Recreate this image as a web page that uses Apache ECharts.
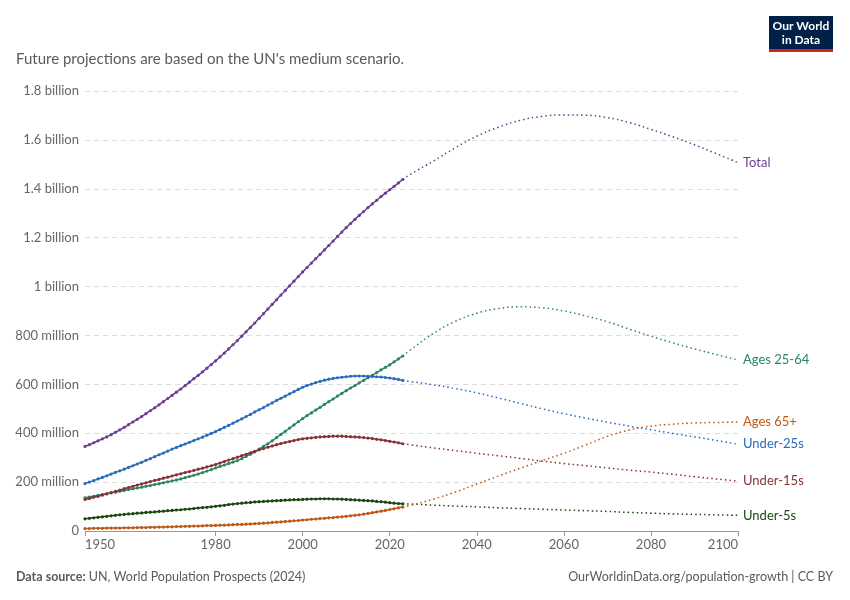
<!DOCTYPE html>
<html>
<head>
<meta charset="utf-8">
<script src="https://cdn.jsdelivr.net/npm/echarts@6/dist/echarts.min.js"></script>
<style>
  html, body { margin: 0; padding: 0; background: #fff; }
  #chart { width: 850px; height: 600px; }
</style>
</head>
<body>
<div id="chart"></div>
<script>
// values in millions
var histStart = 1950;
var histEnd = 2023;

var totalHist = [346,353,361,369,377,385,394,404,414,424,435,
  446,457,468,480,492,504,516,529,542,555,
  568,581,595,609,623,637,651,666,681,696,
  712,728,745,762,779,797,815,833,851,870,
  889,908,927,946,965,984,1003,1022,1041,1060,
  1078,1096,1114,1132,1150,1168,1186,1205,1223,1241,
  1258,1275,1291,1307,1323,1338,1353,1368,1382,1396,
  1410,1424,1438];

var age2564Hist = [136,139,142,146,149,152,156,159,163,166,170,
  173,176,179,183,186,190,193,197,201,205,
  209,213,218,223,228,233,239,245,251,258,
  264,270,276,282,288,296,305,314,324,335,
  346,357,369,382,395,408,421,434,447,460,
  472,483,495,506,518,529,540,552,563,574,
  585,595,606,616,627,637,648,659,669,680,
  692,704,716];

var under25Hist = [194,200,206,213,219,226,233,240,246,253,260,
  267,274,281,289,296,304,312,319,327,335,
  342,349,356,363,370,377,384,392,399,407,
  415,424,432,441,450,459,468,477,487,496,
  505,515,524,534,543,552,561,570,579,588,
  595,601,607,612,617,621,624,627,629,631,
  633,634,634,634,633,632,631,630,628,626,
  623,620,616];

var under15Hist = [129,133,138,142,147,152,157,162,167,173,178,
  183,188,192,197,202,207,211,216,220,225,
  230,234,239,243,248,253,257,262,267,272,
  278,284,290,296,302,308,314,320,326,332,
  337,343,348,353,358,362,366,370,374,377,
  379,381,383,385,386,387,388,388,388,387,
  386,385,384,382,380,378,375,373,370,367,
  364,361,357];

var under5Hist = [50,52,54,56,58,60,62,64,66,68,70,
  71,73,74,76,77,78,80,81,83,84,
  86,87,89,90,92,94,96,97,99,101,
  103,105,108,110,112,114,116,117,119,120,
  121,122,123,124,125,126,127,128,128,129,
  130,131,131,132,132,132,131,131,130,129,
  128,127,126,125,124,123,121,120,118,116,
  114,112,111];

var age65Hist = [10,10,11,11,11,12,12,12,12,13,13,
  13,14,14,14,15,15,16,16,17,17,
  18,18,19,19,20,20,21,22,22,23,
  24,24,25,26,27,27,28,29,30,31,
  32,33,35,36,37,39,40,42,43,45,
  46,48,49,51,52,54,55,57,58,60,
  62,64,66,69,72,75,78,81,84,88,
  91,95,98];

// projections (UN medium scenario)
var projYears   = [2023,2025,2030,2035,2040,2045,2050,2055,2060,2065,2070,2075,2080,2085,2090,2095,2100];
var totalProj   = [1438,1462,1513,1567,1615,1652,1680,1696,1702,1701,1691,1671,1643,1613,1580,1544,1507];
var age2564Proj = [716,744,808,857,891,910,917,913,900,880,856,826,797,770,745,722,699];
var under25Proj = [616,611,598,583,565,544,522,500,480,462,445,429,414,399,385,370,355];
var under15Proj = [357,352,340,329,318,308,297,286,276,267,258,249,241,232,222,213,204];
var under5Proj  = [111,110,106,102,99,95,92,89,86,83,80,76,73,70,68,66,64];
var age65Proj   = [98,106,130,159,192,225,257,288,318,352,387,413,429,437,442,444,446];

var xTicks = [1950,1980,2000,2020,2040,2060,2080,2100];

var colors = {
  'Total': '#6d3e91',
  'Ages 25-64': '#2c8465',
  'Under-25s': '#286bbb',
  'Under-15s': '#883039',
  'Under-5s': '#18470f',
  'Ages 65+': '#be5915'
};

var histYears = [];
for (var y = histStart; y <= histEnd; y++) histYears.push(y);

function pairs(xs, vs) {
  return xs.map(function (x, i) { return [x, vs[i]]; });
}

function histSeries(name, vals) {
  return {
    name: name + ' (hist)',
    type: 'line',
    data: pairs(histYears, vals),
    symbol: 'circle',
    symbolSize: 3.2,
    showSymbol: true,
    lineStyle: { color: colors[name], width: 1.5 },
    itemStyle: { color: colors[name] },
    z: 3,
    silent: true
  };
}

function projSeries(name, vals) {
  return {
    name: name,
    type: 'line',
    data: pairs(projYears, vals),
    smooth: 0.5,
    showSymbol: false,
    lineStyle: { color: colors[name], width: 1.5, type: [1.5, 3] },
    itemStyle: { color: colors[name] },
    endLabel: {
      show: true,
      formatter: '{a}',
      color: colors[name],
      fontFamily: 'Lato',
      fontSize: 13,
      distance: 5
    },
    z: 2,
    silent: true
  };
}

var chart = echarts.init(document.getElementById('chart'), null, { renderer: 'canvas' });

var option = {
  animation: false,
  backgroundColor: '#ffffff',
  textStyle: { fontFamily: 'Lato' },
  grid: { left: 85, right: 112, top: 91, bottom: 69 },
  xAxis: {
    type: 'value',
    min: 1950,
    max: 2100,
    axisLine: { show: true, lineStyle: { color: '#999', width: 1 } },
    axisTick: { show: true, length: 5, lineStyle: { color: '#999' }, customValues: xTicks },
    axisLabel: {
      customValues: xTicks,
      color: '#666',
      fontSize: 13,
      fontFamily: 'Lato',
      margin: 7,
      alignMinLabel: 'left',
      alignMaxLabel: 'right',
      formatter: function (v) { return String(v); }
    },
    splitLine: { show: false }
  },
  yAxis: {
    type: 'value',
    min: 0,
    max: 1800,
    interval: 200,
    axisLine: { show: false },
    axisTick: { show: false },
    axisLabel: {
      color: '#666',
      fontSize: 13,
      fontFamily: 'Lato',
      margin: 6,
      formatter: function (v) {
        if (v === 0) return '0';
        if (v >= 1000) return (v / 1000) + ' billion';
        return v + ' million';
      }
    },
    splitLine: { show: true, lineStyle: { color: '#dcdcdc', type: [5, 4], width: 1 } }
  },
  series: [
    projSeries('Total', totalProj),
    projSeries('Ages 25-64', age2564Proj),
    projSeries('Under-25s', under25Proj),
    projSeries('Under-15s', under15Proj),
    projSeries('Under-5s', under5Proj),
    projSeries('Ages 65+', age65Proj),
    histSeries('Total', totalHist),
    histSeries('Ages 25-64', age2564Hist),
    histSeries('Under-25s', under25Hist),
    histSeries('Under-15s', under15Hist),
    histSeries('Under-5s', under5Hist),
    histSeries('Ages 65+', age65Hist)
  ],
  graphic: [
    {
      type: 'text', left: 16, top: 52,
      style: { text: "Future projections are based on the UN's medium scenario.", fill: '#5b5b5b', font: '15px Lato' }
    },
    { type: 'rect', shape: { x: 769, y: 16, width: 64, height: 33 }, style: { fill: '#002147' } },
    { type: 'rect', shape: { x: 769, y: 49, width: 64, height: 3 }, style: { fill: '#ce261e' } },
    {
      type: 'text', x: 801, y: 33,
      style: { text: 'Our World\nin Data', fill: '#ffffff', font: 'bold 12px Lato', align: 'center', verticalAlign: 'middle', lineHeight: 14 }
    },
    {
      type: 'text', left: 16, top: 570,
      style: {
        text: '{b|Data source:} UN, World Population Prospects (2024)',
        rich: { b: { fontWeight: 'bold', fill: '#5b5b5b', fontSize: 12.5, fontFamily: 'Lato' } },
        fill: '#5b5b5b', font: '12.5px Lato'
      }
    },
    {
      type: 'text', right: 17, top: 570,
      style: { text: 'OurWorldinData.org/population-growth | CC BY', fill: '#5b5b5b', font: '12.5px Lato', align: 'right' }
    }
  ]
};

chart.setOption(option);
</script>
</body>
</html>
